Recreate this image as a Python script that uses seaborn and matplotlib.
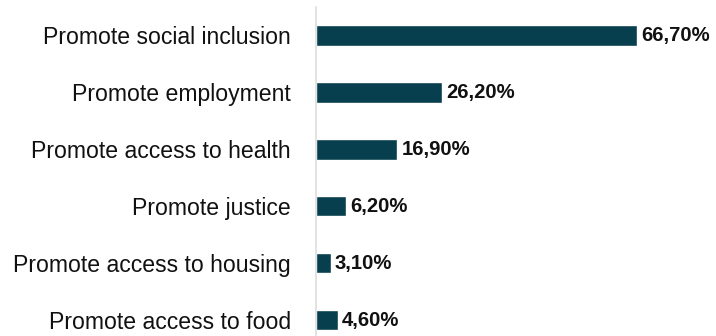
import matplotlib
matplotlib.use("Agg")
import matplotlib.pyplot as plt
import seaborn as sns
import pandas as pd

categories = [
    "Promote social inclusion",
    "Promote employment",
    "Promote access to health",
    "Promote justice",
    "Promote access to housing",
    "Promote access to food",
]
values = [66.7, 26.2, 16.9, 6.2, 3.1, 4.6]
value_labels = ["66,70%", "26,20%", "16,90%", "6,20%", "3,10%", "4,60%"]

df = pd.DataFrame({"category": categories, "value": values})

sns.set_theme(style="white")
plt.rcParams["font.family"] = ["Liberation Sans", "DejaVu Sans"]

fig = plt.figure(figsize=(7.16, 3.36), dpi=100)
ax = fig.add_axes([316 / 716, 0.0, 400 / 716, (336 - 7) / 336])

sns.barplot(data=df, x="value", y="category", color="#083f4e", width=0.36,
            saturation=1, ax=ax, orient="h")

ax.set_xlim(0, 400 / 4.81)
ax.set_ylim(5.28, -0.5)
ax.set_xlabel("")
ax.set_ylabel("")
ax.set_xticks([])
ax.tick_params(axis="y", length=0, pad=18, labelsize=16.6, labelcolor="#111111")

for side in ["top", "right", "bottom"]:
    ax.spines[side].set_visible(False)
ax.spines["left"].set_color("#dddddd")
ax.spines["left"].set_linewidth(1.2)

for i, (v, lab) in enumerate(zip(values, value_labels)):
    ax.text(v + 0.85, i, lab, va="center", ha="left", fontsize=14.6,
            fontweight="bold", color="#111111")

fig.savefig("out.png", dpi=100)
